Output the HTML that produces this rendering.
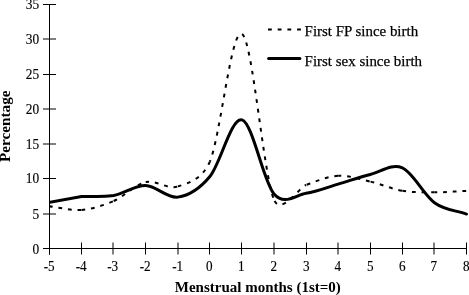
<!DOCTYPE html>
<html><head><meta charset="utf-8"><style>
html,body{margin:0;padding:0;background:#fff;width:469px;height:295px;overflow:hidden}
svg{display:block;filter:grayscale(1)}
.t{font-family:"Liberation Serif",serif;font-size:14px;fill:#000;stroke:#000;stroke-width:0.15px}
.l{font-family:"Liberation Serif",serif;font-size:15.5px;fill:#000;stroke:#000;stroke-width:0.25px}
.b{font-family:"Liberation Serif",serif;font-size:14.7px;font-weight:bold;fill:#000}
</style></head><body>
<svg width="469" height="295" viewBox="0 0 469 295">
<defs><clipPath id="pc"><rect x="50" y="0" width="419" height="295"/></clipPath></defs>
<path d="M49.5,4 V254.5 M49,248.5 H467" stroke="#000" stroke-width="1" fill="none"/>
<path d="M43,4.5 H56 M43,39.0 H56 M43,74.5 H56 M43,109.0 H56 M43,144.0 H56 M43,178.5 H56 M43,214.0 H56 M43,248.5 H56 M49.5,242.5 V254.5 M81.5,242.5 V254.5 M113.0,242.5 V254.5 M145.5,242.5 V254.5 M178.0,242.5 V254.5 M209.5,242.5 V254.5 M241.5,242.5 V254.5 M274.0,242.5 V254.5 M306.5,242.5 V254.5 M338.0,242.5 V254.5 M370.5,242.5 V254.5 M402.5,242.5 V254.5 M434.0,242.5 V254.5 M466.5,242.5 V254.5" stroke="#000" stroke-width="1" fill="none"/>
<text x="39.1" y="9.3" text-anchor="end" class="t" textLength="13.37" lengthAdjust="spacingAndGlyphs">35</text>
<text x="39.1" y="43.8" text-anchor="end" class="t" textLength="13.37" lengthAdjust="spacingAndGlyphs">30</text>
<text x="39.1" y="79.3" text-anchor="end" class="t" textLength="13.37" lengthAdjust="spacingAndGlyphs">25</text>
<text x="39.1" y="113.8" text-anchor="end" class="t" textLength="13.37" lengthAdjust="spacingAndGlyphs">20</text>
<text x="39.1" y="148.8" text-anchor="end" class="t" textLength="13.37" lengthAdjust="spacingAndGlyphs">15</text>
<text x="39.1" y="183.3" text-anchor="end" class="t" textLength="13.37" lengthAdjust="spacingAndGlyphs">10</text>
<text x="39.1" y="218.8" text-anchor="end" class="t" textLength="6.68" lengthAdjust="spacingAndGlyphs">5</text>
<text x="39.1" y="254.1" text-anchor="end" class="t" textLength="6.68" lengthAdjust="spacingAndGlyphs">0</text>
<text x="49.2" y="270.5" text-anchor="middle" class="t" textLength="10.96" lengthAdjust="spacingAndGlyphs">-5</text>
<text x="81.2" y="270.5" text-anchor="middle" class="t" textLength="10.96" lengthAdjust="spacingAndGlyphs">-4</text>
<text x="112.7" y="270.5" text-anchor="middle" class="t" textLength="10.96" lengthAdjust="spacingAndGlyphs">-3</text>
<text x="145.2" y="270.5" text-anchor="middle" class="t" textLength="10.96" lengthAdjust="spacingAndGlyphs">-2</text>
<text x="177.7" y="270.5" text-anchor="middle" class="t" textLength="10.96" lengthAdjust="spacingAndGlyphs">-1</text>
<text x="209.2" y="270.5" text-anchor="middle" class="t" textLength="6.58" lengthAdjust="spacingAndGlyphs">0</text>
<text x="241.2" y="270.5" text-anchor="middle" class="t" textLength="6.58" lengthAdjust="spacingAndGlyphs">1</text>
<text x="273.7" y="270.5" text-anchor="middle" class="t" textLength="6.58" lengthAdjust="spacingAndGlyphs">2</text>
<text x="306.2" y="270.5" text-anchor="middle" class="t" textLength="6.58" lengthAdjust="spacingAndGlyphs">3</text>
<text x="337.7" y="270.5" text-anchor="middle" class="t" textLength="6.58" lengthAdjust="spacingAndGlyphs">4</text>
<text x="370.2" y="270.5" text-anchor="middle" class="t" textLength="6.58" lengthAdjust="spacingAndGlyphs">5</text>
<text x="402.2" y="270.5" text-anchor="middle" class="t" textLength="6.58" lengthAdjust="spacingAndGlyphs">6</text>
<text x="433.7" y="270.5" text-anchor="middle" class="t" textLength="6.58" lengthAdjust="spacingAndGlyphs">7</text>
<text x="466.2" y="270.5" text-anchor="middle" class="t" textLength="6.58" lengthAdjust="spacingAndGlyphs">8</text>
<g clip-path="url(#pc)" fill="none" stroke="#000">
<g stroke-width="2.0">
<path d="M49.50,206.32 C60.19,207.51 70.88,210.76 81.58,209.88" stroke-dasharray="3.8 5.85" stroke-dashoffset="0.64"/>
<path d="M81.58,209.88 C92.27,209.00 102.96,205.66 113.65,201.02" stroke-dasharray="3.8 5.85" stroke-dashoffset="0.16"/>
<path d="M113.65,201.02 C124.35,196.39 135.04,184.49 145.73,182.06" stroke-dasharray="3.8 5.85" stroke-dashoffset="0"/>
<path d="M145.73,182.06 C156.42,179.63 167.12,189.87 177.81,186.45" stroke-dasharray="3.8 5.85" stroke-dashoffset="0.44"/>
<path d="M177.81,186.45 C185.67,183.94 202.02,180.28 209.88,161.57" stroke-dasharray="3.8 5.85" stroke-dashoffset="-0.17"/>
<path d="M209.88,161.57 C220.58,136.13 231.27,27.47 241.96,33.85" stroke-dasharray="3.8 5.889" stroke-dashoffset="2.03"/>
<path d="M241.96,33.85 C252.65,40.23 263.35,174.65 274.04,199.84" stroke-dasharray="3.8 5.793" stroke-dashoffset="-0.31"/>
<path d="M274.04,199.84 C280.94,216.11 299.21,187.57 306.12,184.99" stroke-dasharray="3.8 5.85" stroke-dashoffset="-1.17"/>
<path d="M306.12,184.99 C316.81,180.99 327.50,176.43 338.19,175.86" stroke-dasharray="3.8 5.85" stroke-dashoffset="-0.61"/>
<path d="M338.19,175.86 C348.88,175.29 359.58,179.09 370.27,181.57" stroke-dasharray="3.8 5.85" stroke-dashoffset="0.7"/>
<path d="M370.27,181.57 C380.96,184.06 391.65,188.99 402.35,190.78" stroke-dasharray="3.8 5.85" stroke-dashoffset="-0.29"/>
<path d="M402.35,190.78 C413.04,192.57 423.73,192.29 434.42,192.31" stroke-dasharray="3.8 5.85" stroke-dashoffset="0.02"/>
<path d="M434.42,192.31 C445.12,192.33 455.81,191.38 466.50,190.92" stroke-dasharray="3.8 5.85" stroke-dashoffset="0.97"/>
</g>
<path d="M49.50,202.35 C60.19,200.42 70.88,198.49 81.58,196.56 C92.27,196.56 105.65,196.51 113.65,195.45 C124.35,193.60 135.04,185.20 145.73,185.48 C156.42,185.76 167.12,198.62 177.81,197.12 C188.50,195.62 199.19,189.36 209.88,176.49 C220.58,163.61 231.27,116.96 241.96,119.88 C252.65,122.79 263.35,181.75 274.04,193.98 C284.59,206.06 295.56,194.92 306.12,193.29 C316.81,191.64 327.50,187.21 338.19,184.08 C348.88,180.96 359.58,177.22 370.27,174.53 C380.96,171.85 391.65,163.29 402.35,167.98 C413.04,172.67 423.73,195.02 434.42,202.70 C445.12,210.38 455.81,210.27 466.50,214.06" stroke-width="3" stroke-linecap="round" stroke-linejoin="round"/>
</g>
<path d="M268,29.5 H301" stroke="#000" stroke-width="2.0" stroke-dasharray="3.8 5.9"/>
<path d="M268.6,58.5 H299.9" stroke="#000" stroke-width="3" stroke-linecap="round"/>
<text x="304.6" y="35.6" class="l" textLength="113.5" lengthAdjust="spacingAndGlyphs">First FP since birth</text>
<text x="304.6" y="65.6" class="l" textLength="117.5" lengthAdjust="spacingAndGlyphs">First sex since birth</text>
<text x="174.8" y="292.2" class="b" textLength="166" lengthAdjust="spacingAndGlyphs">Menstrual months (1st=0)</text>
<text transform="translate(10,162) rotate(-90)" class="b" textLength="71.5" lengthAdjust="spacingAndGlyphs">Percentage</text>
</svg>
</body></html>
